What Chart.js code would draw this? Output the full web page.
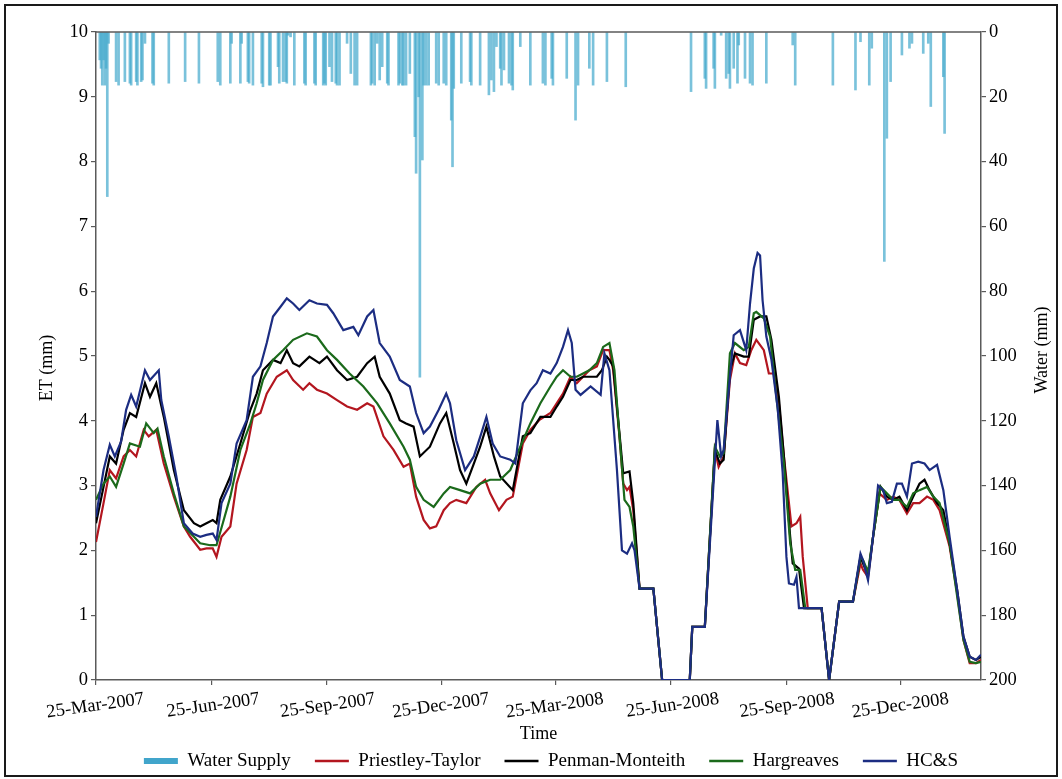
<!DOCTYPE html>
<html>
<head>
<meta charset="utf-8">
<script src="https://cdn.jsdelivr.net/npm/chart.js@4.4.1/dist/chart.umd.min.js"></script>
<style>
  html, body { margin: 0; padding: 0; background: #ffffff; }
  #wrap { position: relative; width: 1062px; height: 779px; }
</style>
</head>
<body>
<div id="wrap"><canvas id="chart" width="1062" height="779"></canvas></div>
<script>
// Days are counted from 25-Mar-2007 (day 0); the axis runs to 28-Feb-2009 (day 705).
const tickDays = [0, 92, 184, 275, 366, 458, 550, 641];
const tickLabels = ['25-Mar-2007', '25-Jun-2007', '25-Sep-2007', '25-Dec-2007',
                    '25-Mar-2008', '25-Jun-2008', '25-Sep-2008', '25-Dec-2008'];

// Water supply events (mm)
const supplyDays = [3,4,5,6,7,8,9,10,16,18,23,27,28,32,33,36,37,39,45,46,58,71,82,97,99,107,108,115,116,121,122,125,
  132,133,138,139,145,146,149,151,152,153,155,158,166,167,174,175,181,182,183,186,188,191,192,194,200,203,206,208,
  219,220,222,224,226,228,232,233,241,242,244,245,247,250,254,255,257,258,260,261,263,265,271,273,277,279,283,284,285,
  291,298,299,306,313,315,317,319,322,323,325,329,331,332,338,346,356,358,363,364,375,382,384,393,396,407,422,
  474,485,486,492,493,498,502,504,505,508,511,512,517,521,523,534,555,557,587,605,609,616,618,628,630,633,
  642,648,650,659,663,665,675,676];
const supplyMm = [8.6,11.2,16.4,8.6,16.4,11.2,50.8,3.5,15.3,16.4,15.3,15.8,16.4,15.3,16.4,15.3,14.8,3.5,15.8,16.4,15.8,15.3,15.8,15.3,16.4,15.8,3.5,15.8,3.5,15.3,15.8,16.4,
  15.8,16.9,16.4,16.4,10.7,15.8,15.3,15.3,15.8,1.0,1.5,16.4,15.8,16.4,15.8,16.4,16.4,15.8,16.4,10.7,15.3,15.8,16.4,16.4,3.5,12.8,16.4,16.4,
  16.4,15.8,16.4,3.5,14.8,10.7,15.8,16.4,16.4,15.8,16.4,16.4,16.4,12.8,32.3,43.6,20.0,106.5,39.5,16.4,16.4,16.4,15.8,16.4,15.8,16.4,27.2,41.6,17.4,
  15.8,15.3,16.4,16.4,19.4,14.8,18.4,4.5,11.2,16.4,11.7,15.8,16.4,17.9,4.5,16.4,15.8,16.4,14.3,16.4,14.3,27.2,16.4,11.2,16.4,15.3,16.9,
  18.4,14.3,17.4,11.2,17.4,1.0,14.3,12.8,17.4,11.2,15.8,4.0,14.3,15.8,16.4,15.8,4.0,16.4,16.4,17.9,3.0,16.4,5.0,70.8,32.8,15.3,
  7.1,5.0,3.5,6.6,3.5,23.0,13.8,31.3];

// Priestley-Taylor ET (mm)
const ptDays = [0,6,11,16,22,27,32,38,42,48,54,62,70,75,83,88,93,96,100,107,112,120,125,131,136,144,152,157,165,170,
  176,184,192,200,208,216,221,229,237,245,250,255,261,266,271,277,282,287,295,303,310,314,321,327,332,340,346,353,362,367,
  372,378,383,388,393,399,404,409,412,417,420,423,425,428,433,444,451,473,475,485,493,496,500,505,509,513,518,522,526,532,
  536,540,544,548,554,558,561,563,567,578,584,592,603,609,611,615,619,624,630,635,640,646,651,656,662,667,672,680,686,691,
  696,701,705];
const ptEt = [2.13,2.73,3.24,3.11,3.45,3.55,3.45,3.86,3.76,3.86,3.34,2.83,2.37,2.21,2.01,2.03,2.03,1.90,2.21,2.37,3.03,3.55,4.06,4.12,4.42,4.68,4.78,4.63,4.48,4.58,
  4.48,4.42,4.32,4.22,4.17,4.27,4.22,3.76,3.55,3.29,3.34,2.83,2.47,2.34,2.37,2.62,2.73,2.78,2.73,2.98,3.09,2.88,2.62,2.78,2.83,3.65,3.86,4.01,4.12,4.27,
  4.42,4.68,4.58,4.68,4.78,4.84,5.09,5.09,4.78,3.76,3.03,2.93,2.98,2.62,1.41,1.41,0,0,0.82,0.82,3.55,3.29,3.45,4.63,5.04,4.89,4.86,5.09,5.25,5.09,
  4.73,4.73,4.27,3.45,2.37,2.42,2.52,1.90,1.11,1.11,0,1.21,1.21,1.80,1.70,1.59,2.21,2.88,2.78,2.83,2.78,2.57,2.73,2.73,2.83,2.78,2.62,2.06,1.34,0.62,
  0.26,0.26,0.31];

// Penman-Monteith ET (mm)
const pmDays = [0,6,11,16,22,27,32,39,43,48,54,62,70,78,83,88,93,96,99,107,115,123,128,133,141,147,152,157,162,170,
  178,184,192,200,208,216,222,226,234,242,247,253,258,266,274,279,285,290,295,301,306,311,317,322,332,340,346,354,362,367,
  372,378,383,388,393,399,403,407,409,412,416,420,425,428,433,444,451,473,475,485,493,497,500,505,509,516,520,524,529,534,
  538,544,548,553,555,560,564,578,584,592,603,609,611,615,619,625,630,635,640,646,651,656,660,664,670,675,680,686,691,696,
  701,705];
const pmEt = [2.42,2.98,3.45,3.34,3.86,4.12,4.06,4.58,4.37,4.58,4.06,3.24,2.62,2.42,2.37,2.42,2.47,2.42,2.78,3.14,3.65,4.17,4.42,4.78,4.94,4.89,5.09,4.89,4.84,4.99,
  4.89,4.99,4.78,4.63,4.68,4.89,4.99,4.68,4.42,4.01,3.96,3.91,3.45,3.60,3.96,4.12,3.65,3.24,3.03,3.34,3.60,3.91,3.45,3.14,2.93,3.76,3.81,4.06,4.06,4.22,
  4.37,4.63,4.63,4.68,4.68,4.68,4.78,4.99,4.94,4.84,4.01,3.19,3.22,2.73,1.41,1.41,0,0,0.82,0.82,3.55,3.34,3.40,4.78,5.04,4.99,4.99,5.56,5.61,5.61,
  5.25,4.37,3.45,2.21,1.80,1.72,1.11,1.11,0,1.21,1.21,1.90,1.80,1.62,2.21,2.98,2.83,2.78,2.83,2.62,2.83,3.03,3.09,2.93,2.73,2.62,2.11,1.39,0.67,0.36,
  0.31,0.36];

// Hargreaves ET (mm)
const hgDays = [0,6,11,16,22,27,35,40,46,49,54,62,70,78,83,91,96,101,107,115,123,128,133,141,149,157,168,176,184,192,
  202,213,224,234,245,250,255,261,269,277,282,290,298,306,314,322,330,338,346,354,362,367,372,378,383,388,393,399,404,409,
  413,417,421,425,428,433,444,451,473,475,485,493,497,500,505,509,516,520,524,526,532,537,542,548,553,557,561,565,578,584,
  592,603,609,611,615,619,625,630,635,640,646,651,656,662,667,672,680,686,691,696,701,705];
const hgEt = [2.78,3.03,3.14,2.98,3.34,3.65,3.60,3.96,3.81,3.88,3.45,2.88,2.37,2.21,2.11,2.08,2.08,2.42,2.83,3.55,3.96,4.27,4.63,4.94,5.09,5.25,5.35,5.30,5.09,4.94,
  4.73,4.53,4.27,3.96,3.60,3.40,2.98,2.78,2.67,2.88,2.98,2.93,2.88,3.03,3.09,3.09,3.24,3.60,3.96,4.27,4.53,4.68,4.78,4.68,4.68,4.73,4.78,4.89,5.14,5.20,
  4.78,3.76,2.78,2.67,2.37,1.41,1.41,0,0,0.82,0.82,3.60,3.45,3.50,5.04,5.20,5.09,5.14,5.66,5.68,5.58,5.30,4.37,3.34,2.11,1.70,1.70,1.11,1.11,0,
  1.21,1.21,1.90,1.85,1.67,2.21,2.98,2.88,2.78,2.78,2.67,2.88,2.93,2.98,2.83,2.73,2.11,1.29,0.62,0.28,0.26,0.28];

// HC&S ET (mm)
const hcDays = [0,6,11,15,20,24,28,32,39,43,50,52,58,64,70,77,83,88,93,96,100,107,112,120,125,131,136,141,147,152,
  157,162,170,176,184,189,197,205,209,216,221,226,234,242,250,255,261,266,273,279,282,287,294,301,307,311,316,322,330,334,
  340,346,351,356,362,367,372,376,379,382,386,394,402,405,409,415,419,423,427,429,433,444,451,473,475,485,495,498,500,505,
  508,513,518,521,524,527,529,531,534,538,543,547,550,552,556,558,560,578,584,592,603,609,611,615,619,623,627,630,634,638,
  642,646,650,655,660,664,670,675,680,686,691,696,701,705];
const hcEt = [2.52,3.24,3.63,3.45,3.68,4.17,4.40,4.22,4.78,4.63,4.78,4.32,3.76,3.14,2.42,2.26,2.21,2.24,2.26,2.16,2.73,3.03,3.65,4.01,4.68,4.84,5.20,5.61,5.76,5.89,
  5.81,5.71,5.86,5.81,5.79,5.66,5.40,5.45,5.32,5.61,5.71,5.20,4.99,4.63,4.53,4.12,3.81,3.91,4.17,4.42,4.27,3.70,3.24,3.45,3.81,4.06,3.65,3.45,3.40,3.34,
  4.27,4.47,4.58,4.78,4.73,4.89,5.14,5.40,5.20,4.48,4.40,4.53,4.40,5.04,4.78,3.24,2.00,1.95,2.11,2.00,1.41,1.41,0,0,0.82,0.82,4.01,3.45,3.55,4.68,
  5.32,5.40,5.09,5.81,6.35,6.59,6.55,5.86,5.30,4.95,4.20,3.20,1.90,1.49,1.47,1.59,1.11,1.11,0,1.21,1.21,1.95,1.85,1.54,2.21,3.00,2.93,2.73,2.75,3.03,
  3.03,2.83,3.34,3.37,3.34,3.24,3.32,2.93,2.21,1.39,0.67,0.36,0.31,0.39];

const pairs = (xs, ys) => xs.map((x, i) => ({ x: x, y: ys[i] }));

const FONT = "'Liberation Serif', 'Times New Roman', Times, serif";
const AXIS = '#5a5a5a';
Chart.defaults.font.family = FONT;
Chart.defaults.color = '#000000';

function lineSet(label, xs, ys, color, order) {
  return {
    type: 'line', label: label, data: pairs(xs, ys), yAxisID: 'y',
    borderColor: color, backgroundColor: color, borderWidth: 2.2,
    pointRadius: 0, tension: 0, fill: false, order: order
  };
}

// Frame, top edge of the plot, rotated axis titles, legend placement
const decor = {
  id: 'decor',
  afterLayout(chart) {
    const lg = chart.legend;
    if (!lg) return;
    const dx = 20;
    lg.left += dx; lg.right += dx;
    const wantMid = 761;
    const dy = wantMid - (lg.top + lg.options.labels.padding + lg.options.labels.font.size / 2);
    lg.top += dy;
    lg.bottom = chart.height;
  },
  afterDraw(chart) {
    const { ctx, chartArea: a } = chart;
    ctx.save();
    ctx.strokeStyle = AXIS; ctx.lineWidth = 1.5;
    ctx.beginPath(); ctx.moveTo(a.left, a.top); ctx.lineTo(a.right, a.top); ctx.stroke();

    ctx.strokeStyle = '#1a1a1a'; ctx.lineWidth = 2;
    ctx.strokeRect(5, 5, chart.width - 10, chart.height - 8);

    ctx.fillStyle = '#000'; ctx.font = '18px ' + FONT;
    ctx.textAlign = 'center'; ctx.textBaseline = 'middle';
    ctx.translate(47, 368); ctx.rotate(-Math.PI / 2); ctx.fillText('ET (mm)', 0, 0);
    ctx.setTransform(1, 0, 0, 1, 0, 0);
    ctx.translate(1042, 350); ctx.rotate(-Math.PI / 2); ctx.fillText('Water (mm)', 0, 0);
    ctx.restore();
  }
};

const tickFont = { family: FONT, size: 18.5 };

new Chart(document.getElementById('chart'), {
  type: 'line',
  data: {
    datasets: [
      {
        type: 'bar', label: 'Water Supply', data: pairs(supplyDays, supplyMm), yAxisID: 'y1',
        backgroundColor: 'rgba(70,170,205,0.72)', borderWidth: 0, barThickness: 2, order: 5
      },
      lineSet('Priestley-Taylor', ptDays, ptEt, '#b3161f', 4),
      lineSet('Penman-Monteith', pmDays, pmEt, '#000000', 3),
      lineSet('Hargreaves', hgDays, hgEt, '#1b6a1b', 2),
      lineSet('HC&S', hcDays, hcEt, '#1c2d82', 1)
    ]
  },
  options: {
    responsive: false,
    animation: false,
    events: [],
    layout: { padding: { top: 32, left: 0, right: 0, bottom: 0 } },
    plugins: {
      tooltip: { enabled: false },
      legend: {
        position: 'bottom',
        maxHeight: 34,
        labels: {
          usePointStyle: true,
          pointStyleWidth: 34,
          padding: 24,
          font: { family: FONT, size: 19 },
          color: '#000',
          generateLabels(chart) {
            return chart.data.datasets.map((ds, i) => ({
              text: ds.label,
              datasetIndex: i,
              pointStyle: 'line',
              strokeStyle: ds.type === 'bar' ? 'rgba(55,160,200,0.95)' : ds.borderColor,
              fillStyle: ds.type === 'bar' ? ds.backgroundColor : ds.borderColor,
              lineWidth: ds.type === 'bar' ? 6 : 2.6,
              hidden: false,
              fontColor: '#000'
            }));
          }
        }
      }
    },
    scales: {
      x: {
        type: 'linear', position: 'bottom', min: 0, max: 705, offset: false,
        afterBuildTicks(scale) { scale.ticks = tickDays.map(v => ({ value: v })); },
        afterFit(scale) { scale.height = 65; scale.paddingLeft = 0; scale.paddingRight = 0; },
        ticks: {
          autoSkip: false, minRotation: 8, maxRotation: 8, labelOffset: 48, padding: 3,
          font: tickFont, color: '#000',
          callback: (v, i) => tickLabels[i]
        },
        grid: { offset: false, drawOnChartArea: false, drawTicks: true, tickLength: 5, color: AXIS, lineWidth: 1.2 },
        border: { display: true, color: AXIS, width: 1.5 },
        title: { display: true, text: 'Time', font: { family: FONT, size: 18 }, color: '#000', padding: { top: 0, bottom: 0 } }
      },
      y: {
        type: 'linear', position: 'left', min: 0, max: 10,
        afterFit(scale) { scale.width = 96; },
        ticks: { stepSize: 1, padding: 3, font: tickFont, color: '#000' },
        grid: { drawOnChartArea: false, drawTicks: true, tickLength: 5, color: AXIS, lineWidth: 1.2 },
        border: { display: true, color: AXIS, width: 1.5 }
      },
      y1: {
        type: 'linear', position: 'right', min: 0, max: 200, reverse: true,
        afterFit(scale) { scale.width = 81; },
        ticks: { stepSize: 20, padding: 3, font: tickFont, color: '#000' },
        grid: { drawOnChartArea: false, drawTicks: true, tickLength: 5, color: AXIS, lineWidth: 1.2 },
        border: { display: true, color: AXIS, width: 1.5 }
      }
    }
  },
  plugins: [decor]
});
</script>
</body>
</html>
